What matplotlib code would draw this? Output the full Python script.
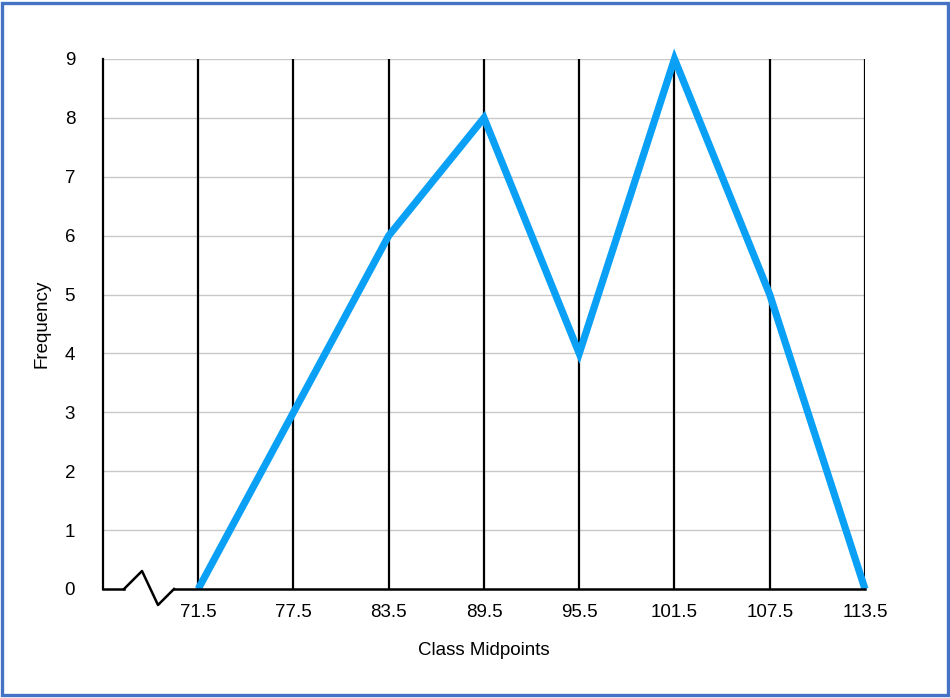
import matplotlib.pyplot as plt
from matplotlib.patches import Rectangle
from matplotlib.lines import Line2D

# data
midpoints = [71.5, 77.5, 83.5, 89.5, 95.5, 101.5, 107.5, 113.5]
frequency = [0, 3, 6, 8, 4, 9, 5, 0]
tick_labels = ['71.5', '77.5', '83.5', '89.5', '95.5', '101.5', '107.5', '113.5']

plt.rc('font', family='Liberation Sans', size=13.5)

fig = plt.figure(figsize=(9.5, 6.98), dpi=100)
ax = fig.add_axes([0.1084, 0.1562, 0.8021, 0.7593])

# vertical lines at each class midpoint
for m in midpoints:
    ax.axvline(m, color='black', lw=1.6, zorder=2)
# light horizontal grid
for y in range(1, 10):
    ax.axhline(y, color='#c8c8c8', lw=1, zorder=1)

ax.plot(midpoints, frequency, color='#0aa0f5', lw=5.2, solid_capstyle='butt',
        solid_joinstyle='miter', clip_on=False, zorder=3)

ax.set_xlim(65.5, 113.5)
ax.set_ylim(0, 9)
ax.set_xticks(midpoints)
ax.set_xticklabels(tick_labels)
ax.set_yticks(range(0, 10))
ax.tick_params(length=0)
ax.tick_params(axis='y', pad=20)
ax.tick_params(axis='x', pad=11)

for s in ['top', 'right', 'bottom']:
    ax.spines[s].set_visible(False)
ax.spines['left'].set_linewidth(1.6)
ax.spines['left'].set_color('black')

ax.set_xlabel('Class Midpoints', labelpad=15)
ax.set_ylabel('Frequency', labelpad=10)

# broken x axis with zigzag (pixel -> figure coords)
W, H = 950, 698
def fpt(pts):
    return [x / W for x, y in pts], [1 - y / H for x, y in pts]
for seg in ([(103, 589), (124, 589)],
            [(124, 589), (142, 571), (158, 605), (174, 589)],
            [(174, 589), (865, 589)]):
    xs, ys = fpt(seg)
    fig.add_artist(Line2D(xs, ys, color='black', lw=1.8))

# blue frame around the figure
fig.add_artist(Rectangle((0.0025, 0.004), 0.995, 0.992, transform=fig.transFigure,
                         fill=False, edgecolor='#4472c4', lw=2.4))

fig.savefig('out.png', dpi=100)
